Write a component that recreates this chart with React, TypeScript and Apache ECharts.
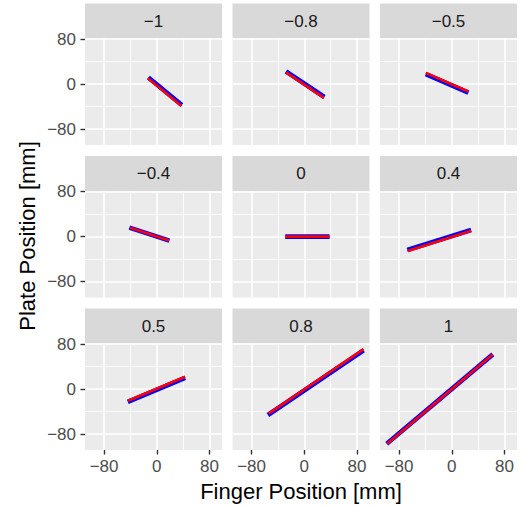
import React, { useEffect, useRef } from "react";
import * as echarts from "echarts";

// Facet labels (correlation settings)
const FACETS = ["−1", "−0.8", "−0.5", "−0.4", "0", "0.4", "0.5", "0.8", "1"];

// Blue series: [finger, plate] endpoints per facet (mm)
const BLUE_LINES: number[][][] = [
  [[-12.8, 11.8], [38.0, -37.0]],
  [[-27.8, 22.6], [30.4, -22.8]],
  [[-39.5, 17.9], [25.2, -15.0]],
  [[-41.6, 16.0], [19.1, -7.1]],
  [[-28.9, 0.0], [38.4, 0.0]],
  [[-67.5, -23.6], [29.3, 11.9]],
  [[-44.0, -22.4], [43.0, 20.0]],
  [[-55.2, -45.9], [90.0, 68.8]],
  [[-98.8, -97.0], [62.3, 61.7]],
];

// Red series: [finger, plate] endpoints per facet (mm)
const RED_LINES: number[][][] = [
  [[-13.5, 10.5], [37.5, -39.0]],
  [[-28.0, 21.0], [30.0, -24.5]],
  [[-39.5, 20.0], [25.0, -13.0]],
  [[-40.5, 15.6], [18.5, -7.0]],
  [[-28.9, 0.0], [38.4, 0.0]],
  [[-67.0, -25.5], [29.5, 10.5]],
  [[-43.5, -20.5], [43.0, 22.0]],
  [[-54.0, -43.5], [90.0, 71.0]],
  [[-98.0, -97.0], [62.0, 61.5]],
];

const MAJOR_TICKS = [-80, 0, 80];
const MINOR_TICKS = [-40, 40];
const X_RANGE = [-109, 99];
const Y_RANGE = [-108, 81];
const X_TITLE = "Finger Position [mm]";
const Y_TITLE = "Plate Position [mm]";

const FONT = "Liberation Sans, Arial, Helvetica, sans-serif";
const COL_LEFT = [85, 232.5, 380];
const PANEL_W = 137;
const ROW_TOP = [38.5, 191, 343.5];
const PANEL_H = 106.5;
const STRIP_H = 35;

const fmt = (v: number) => String(v).replace("-", "−");

export default function App() {
  const ref = useRef<HTMLDivElement>(null);
  useEffect(() => {
    document.body.style.margin = "0";
    const chart = echarts.init(ref.current!, null, { renderer: "svg" });
    const grids: any[] = [];
    const xAxes: any[] = [];
    const yAxes: any[] = [];
    const series: any[] = [];
    const graphics: any[] = [];

    FACETS.forEach((label, i) => {
      const r = Math.floor(i / 3);
      const c = i % 3;
      const left = COL_LEFT[c];
      const top = ROW_TOP[r];
      grids.push({
        left,
        top,
        width: PANEL_W,
        height: PANEL_H,
        show: true,
        backgroundColor: "#EBEBEB",
        borderWidth: 0,
      });
      const showX = r === 2;
      const showY = c === 0;
      // major x axis
      xAxes.push({
        gridIndex: i,
        type: "value",
        position: "bottom",
        min: X_RANGE[0],
        max: X_RANGE[1],
        axisLine: { show: false, onZero: false },
        axisTick: {
          show: showX,
          length: 4.5,
          lineStyle: { color: "#333333", width: 1.4 },
          customValues: MAJOR_TICKS,
        },
        axisLabel: {
          show: showX,
          customValues: MAJOR_TICKS,
          formatter: fmt,
          color: "#4D4D4D",
          fontSize: 17,
          fontFamily: FONT,
          margin: 8,
        },
        splitLine: { show: true, lineStyle: { color: "#FFFFFF", width: 1.6 } },
      });
      // minor x axis
      xAxes.push({
        gridIndex: i,
        type: "value",
        position: "top",
        min: X_RANGE[0],
        max: X_RANGE[1],
        axisLine: { show: false, onZero: false },
        axisTick: { show: false, customValues: MINOR_TICKS },
        axisLabel: { show: false, customValues: MINOR_TICKS },
        splitLine: { show: true, lineStyle: { color: "#FFFFFF", width: 0.8 } },
      });
      yAxes.push({
        gridIndex: i,
        type: "value",
        position: "left",
        min: Y_RANGE[0],
        max: Y_RANGE[1],
        axisLine: { show: false, onZero: false },
        axisTick: {
          show: showY,
          length: 4.5,
          lineStyle: { color: "#333333", width: 1.4 },
          customValues: MAJOR_TICKS,
        },
        axisLabel: {
          show: showY,
          customValues: MAJOR_TICKS,
          formatter: fmt,
          color: "#4D4D4D",
          fontSize: 17,
          fontFamily: FONT,
          margin: 9,
        },
        splitLine: { show: true, lineStyle: { color: "#FFFFFF", width: 1.6 } },
      });
      yAxes.push({
        gridIndex: i,
        type: "value",
        position: "right",
        min: Y_RANGE[0],
        max: Y_RANGE[1],
        axisLine: { show: false, onZero: false },
        axisTick: { show: false, customValues: MINOR_TICKS },
        axisLabel: { show: false, customValues: MINOR_TICKS },
        splitLine: { show: true, lineStyle: { color: "#FFFFFF", width: 0.8 } },
      });

      series.push({
        type: "line",
        xAxisIndex: i * 2,
        yAxisIndex: i * 2,
        data: BLUE_LINES[i],
        symbol: "none",
        lineStyle: { color: "#0000FF", width: 4.6, cap: "butt" },
        z: 3,
      });
      series.push({
        type: "line",
        xAxisIndex: i * 2,
        yAxisIndex: i * 2,
        data: RED_LINES[i],
        symbol: "none",
        lineStyle: { color: "#FF0000", width: 2.6, cap: "butt" },
        z: 4,
      });

      graphics.push({
        type: "rect",
        shape: { x: left, y: top - STRIP_H, width: PANEL_W, height: STRIP_H },
        style: { fill: "#D9D9D9" },
      });
      graphics.push({
        type: "text",
        x: left + PANEL_W / 2,
        y: top - STRIP_H / 2,
        style: {
          text: label,
          align: "center",
          verticalAlign: "middle",
          fill: "#1A1A1A",
          fontSize: 17,
          fontFamily: FONT,
        },
      });
    });

    graphics.push({
      type: "text",
      x: (COL_LEFT[0] + COL_LEFT[2] + PANEL_W) / 2,
      y: 491,
      style: {
        text: X_TITLE,
        align: "center",
        verticalAlign: "middle",
        fill: "#000000",
        fontSize: 22,
        fontFamily: FONT,
      },
    });
    graphics.push({
      type: "text",
      x: 27,
      y: 236,
      rotation: Math.PI / 2,
      style: {
        text: Y_TITLE,
        align: "center",
        verticalAlign: "middle",
        fill: "#000000",
        fontSize: 22,
        fontFamily: FONT,
      },
    });

    chart.setOption({
      animation: false,
      backgroundColor: "#FFFFFF",
      grid: grids,
      xAxis: xAxes,
      yAxis: yAxes,
      series,
      graphic: graphics,
    });
    return () => chart.dispose();
  }, []);
  return <div ref={ref} style={{ width: 526, height: 506 }} />;
}
